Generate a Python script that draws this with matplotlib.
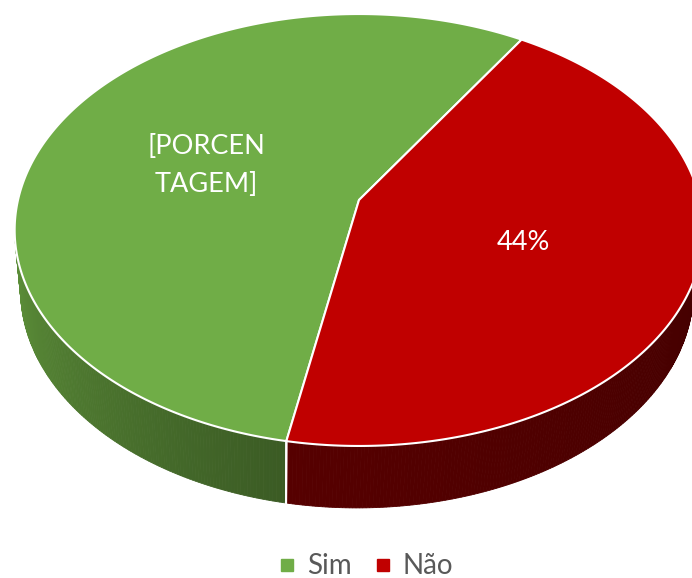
import numpy as np
import matplotlib
matplotlib.use("Agg")
import matplotlib.pyplot as plt
from matplotlib.patches import Polygon
from matplotlib.lines import Line2D
from matplotlib.colors import to_rgb

# ---- data ----
categories = ["Sim", "Não"]
values = [56, 44]
label_texts = ["[PORCEN\nTAGEM]", "44%"]
top_colors = ["#70AD47", "#C00000"]
side_colors = [("#5e923a", "#3b5b24"), ("#560000", "#440000")]

# ---- geometry (pixel space) ----
W, H = 692, 578
CX, CY = 359.0, 200.0          # projected pie centre (apex)
S, T, K = 341.0, 211.8, 0.1389  # perspective scales
START = -100.6                  # angle where first slice starts (deg), drawn clockwise
FRONT = (-172.0, -8.0)


def proj_top(phi_deg):
    p = np.radians(phi_deg)
    x, y = np.cos(p), np.sin(p)
    w = 1 + K * y
    return CX + S * x / w, CY - T * y / w


def proj_in(phi_deg, r):
    p = np.radians(phi_deg)
    x, y = r * np.cos(p), r * np.sin(p)
    w = 1 + K * y
    return CX + S * x / w, CY - T * y / w


def proj_bot(phi_deg):
    u, v = proj_top(phi_deg)
    return CX - 2 + (u - CX) * 0.977, 290 + (v - 230) * 1.009


fig = plt.figure(figsize=(W / 100, H / 100), dpi=100)
ax = fig.add_axes([0, 0, 1, 1])
ax.set_xlim(0, W)
ax.set_ylim(H, 0)
ax.axis("off")

total = float(sum(values))
ranges = []
a = START
for v in values:
    sweep = 360.0 * v / total
    ranges.append((a - sweep, a))  # (low, high)
    a -= sweep

# ---- side walls ----
for i, (lo0, hi0) in enumerate(ranges):
    c0, c1 = np.array(to_rgb(side_colors[i][0])), np.array(to_rgb(side_colors[i][1]))
    for off in (-360.0, 0.0, 360.0):
        lo, hi = lo0 + off, hi0 + off
        s_lo, s_hi = max(lo, FRONT[0]), min(hi, FRONT[1])
        if s_lo >= s_hi:
            continue
        phis = np.linspace(s_lo, s_hi, int((s_hi - s_lo) / 0.5) + 2)
        for j in range(len(phis) - 1):
            f = (j + 0.5) / (len(phis) - 1)
            col = c0 + (c1 - c0) * f
            p0, p1 = phis[j], phis[j + 1]
            pts = [proj_top(p0), proj_top(p1), proj_bot(p1), proj_bot(p0)]
            ax.add_patch(Polygon(pts, closed=True, fc=col, ec=col, lw=0.6,
                                 antialiased=True, zorder=1))

# seams on the front side
for i, (lo, hi) in enumerate(ranges):
    for b in (lo, hi):
        bb = ((b + 180) % 360) - 180
        if FRONT[0] < bb < FRONT[1]:
            ut, vt = proj_top(bb)
            ub, vb = proj_bot(bb)
            ax.plot([ut, ub], [vt, vb], color="white", lw=1.5, zorder=2)

# ---- top faces ----
for i, (lo, hi) in enumerate(ranges):
    phis = np.linspace(hi, lo, int((hi - lo) / 0.25) + 2)
    pts = [(CX, CY)] + [proj_top(p) for p in phis]
    ax.add_patch(Polygon(pts, closed=True, fc=top_colors[i], ec="white",
                         lw=1.5, joinstyle="round", zorder=3))

# ---- labels ----
for i, (lo, hi) in enumerate(ranges):
    mid = (lo + hi) / 2
    u, v = proj_in(mid, 0.5)
    ax.text(u + 2, v + 3, label_texts[i], color="white", fontsize=19.5,
            family=["Lato", "DejaVu Sans"], ha="center", va="center",
            linespacing=1.65, zorder=5)

# ---- legend ----
handles = [Line2D([], [], marker="s", ls="none", markersize=8.2,
                  markerfacecolor=c, markeredgecolor=c) for c in top_colors]
leg = ax.legend(handles, categories, loc="center", bbox_to_anchor=(0.53, 0.02),
                ncol=2, frameon=False, handlelength=0.5, handletextpad=0.45,
                columnspacing=0.9, borderaxespad=0,
                prop={"family": ["Lato", "DejaVu Sans"], "size": 20})
for t in leg.get_texts():
    t.set_color("#595959")

fig.savefig("out.png", dpi=100)
